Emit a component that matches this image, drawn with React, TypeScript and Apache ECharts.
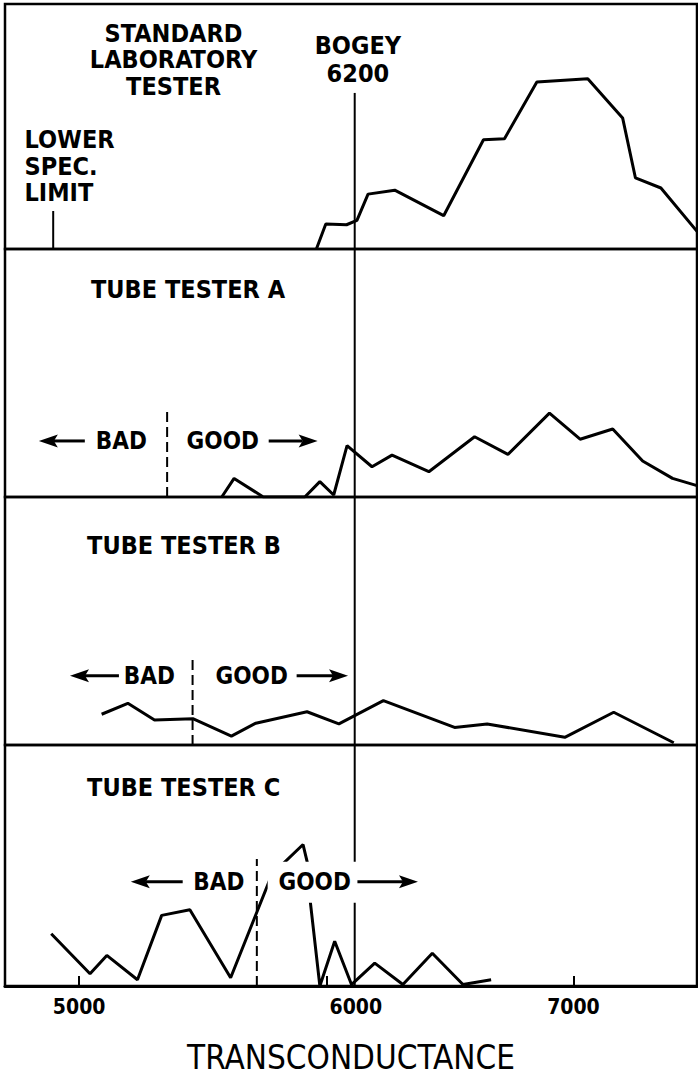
import React, { useEffect, useRef } from 'react';
import * as echarts from 'echarts';

// ---- axis ----
const X_MIN = 4700;
const X_MAX = 7500;
const xTickValues = [5000, 6000, 7000];
const xAxisTitle = 'TRANSCONDUCTANCE';

// ---- reference values ----
const bogeyValue = 6115;
const bogeyTopStd = 63.7; // top of bogey line inside the standard panel
const lowerSpecLimit = 4895;
const lowerSpecHeight = 15.5;

// ---- distributions: [transconductance, relative frequency] ----
const standardLab: [number, number][] = [
  [5960, 0], [5998, 10.2], [6082, 9.9], [6124, 11.7], [6169, 22.4], [6277, 24.0],
  [6475, 13.6], [6636, 44.6], [6721, 45.0], [6852, 68.2], [7058, 69.5], [7199, 53.5],
  [7251, 29.0], [7354, 24.9], [7500, 7.2],
];
const testerA: [number, number][] = [
  [5577, 0], [5627, 7.5], [5745, 0], [5913, 0], [5974, 6.2], [6030, 0.8], [6084, 20.7],
  [6185, 12.2], [6266, 16.9], [6415, 10.2], [6600, 24.3], [6735, 17.2], [6903, 33.8],
  [7027, 23.3], [7159, 27.4], [7280, 14.5], [7401, 7.5], [7500, 4.6],
];
const testerB: [number, number][] = [
  [5091, 12.4], [5197, 16.8], [5305, 10.1], [5460, 10.6], [5616, 3.6], [5715, 8.8],
  [5922, 13.4], [6051, 8.5], [6231, 17.9], [6519, 7.1], [6651, 8.5], [6965, 3.1],
  [7163, 13.2], [7406, 0.9],
];
const testerC: [number, number][] = [
  [4887, 21.7], [5044, 5.1], [5112, 12.7], [5236, 2.6], [5334, 29.3], [5448, 31.6],
  [5613, 3.4], [5780, 46.3], [5906, 58.7], [5927, 49.6], [5933, 37.1], [5974, 0],
  [6034, 18.6], [6102, 0.6], [6196, 9.5], [6310, 0.6], [6429, 13.6], [6553, 0.6],
  [6667, 2.6],
];
const panelData = [standardLab, testerA, testerB, testerC];

// ---- good / bad thresholds of the tube testers (panels 1..3) ----
const thresholds = [5356, 5459, 5719];
const thresholdTops = [34.3, 36.3, 52.7];
const annotationY = [22.6, 27.9, 43.3];
const badArrows: [number, number][] = [[5023, 4837], [5161, 4963], [5419, 5209]];
const goodArrows: [number, number][] = [[5767, 5965], [5880, 6088], [6126, 6371]];
const badLabelX = [5171, 5284, 5565];
const goodLabelX = [5581, 5698, 5953];

// ---- panel labels ----
const panelTitles = ['TUBE TESTER A', 'TUBE TESTER B', 'TUBE TESTER C'];
const panelTitleX = [5048, 5032, 5032];
const panelTitleY = [83.7, 80.4, 82.4];

const stdTexts = [
  { text: 'STANDARD\nLABORATORY\nTESTER', x: 5382, y: 77.2, align: 'center', lh: 26.5 },
  { text: 'BOGEY\n6200', x: 6128, y: 77.2, align: 'center', lh: 28 },
  { text: 'LOWER\nSPEC.\nLIMIT', x: 4779, y: 33.8, align: 'left', lh: 26.7 },
];

const FAMILY = '"DejaVu Sans Condensed", "Liberation Sans Narrow", "DejaVu Sans", sans-serif';
const BOLD25 = `bold 25px ${FAMILY}`;
const BOLD24 = `bold 24px ${FAMILY}`;

const gridBoxes = [
  { top: 4, height: 245 },
  { top: 249, height: 248 },
  { top: 497, height: 248 },
  { top: 745, height: 241 },
];

export default function App() {
  const ref = useRef<HTMLDivElement>(null);
  useEffect(() => {
    const chart = echarts.init(ref.current!, null, { renderer: 'svg' });
    const grids = gridBoxes.map((g) => ({
      left: 5, right: 1, top: g.top, height: g.height,
      show: true, borderColor: '#000', borderWidth: 2.5, backgroundColor: 'transparent',
    }));
    const xAxes = gridBoxes.map((_, i) => {
      const last = i === 3;
      return {
        type: 'value', gridIndex: i, min: X_MIN, max: X_MAX,
        splitLine: { show: false },
        axisLine: { show: last, onZero: false, lineStyle: { color: '#000', width: 3 } },
        axisTick: { show: last, inside: true, length: 10, customValues: xTickValues, lineStyle: { color: '#000', width: 2 } },
        axisLabel: {
          show: last, customValues: xTickValues, margin: 10, color: '#000',
          formatter: (v: number) => (v === 6000 ? '{s|' + v + '}' : '{n|' + v + '}'),
          rich: {
            n: { fontSize: 21, fontWeight: 'bold', fontFamily: FAMILY, color: '#000' },
            s: { fontSize: 21, fontWeight: 'bold', fontFamily: FAMILY, color: '#000', padding: [0, 0, 0, 59] },
          },
        },
        name: last ? xAxisTitle : '',
        nameLocation: 'middle', nameGap: 55,
        nameTextStyle: { fontSize: 33, lineHeight: 33, fontFamily: FAMILY, color: '#000' },
      };
    });
    const yAxes = gridBoxes.map((_, i) => ({ type: 'value', gridIndex: i, min: 0, max: 100, show: false }));

    const lineBase = { type: 'line', symbol: 'none', showSymbol: false, silent: true, clip: true };
    const series: any[] = [];
    panelData.forEach((d, i) => {
      series.push({ ...lineBase, xAxisIndex: i, yAxisIndex: i, data: d, lineStyle: { color: '#000', width: 3 }, z: 3 });
      series.push({
        ...lineBase, xAxisIndex: i, yAxisIndex: i,
        data: [[bogeyValue, 0], [bogeyValue, i === 0 ? bogeyTopStd : 100]],
        lineStyle: { color: '#000', width: 2 }, z: 2,
      });
    });
    series.push({
      ...lineBase, xAxisIndex: 0, yAxisIndex: 0,
      data: [[lowerSpecLimit, 0], [lowerSpecLimit, lowerSpecHeight]],
      lineStyle: { color: '#000', width: 2 },
    });
    thresholds.forEach((t, k) => {
      series.push({
        ...lineBase, xAxisIndex: k + 1, yAxisIndex: k + 1,
        data: [[t, 0], [t, thresholdTops[k]]],
        lineStyle: { color: '#000', width: 2, type: [10, 5] },
      });
    });

    chart.setOption({ animation: false, backgroundColor: '#fff', grid: grids, xAxis: xAxes, yAxis: yAxes, series });

    const px = (g: number, x: number, y: number) => chart.convertToPixel({ gridIndex: g } as any, [x, y]) as number[];
    const graphic: any[] = [];
    stdTexts.forEach((t) => {
      const [x, y] = px(0, t.x, t.y);
      graphic.push({ type: 'text', x, y, z: 20, style: { text: t.text, font: BOLD25, fill: '#000', align: t.align, verticalAlign: 'middle', lineHeight: t.lh } });
    });
    panelTitles.forEach((t, k) => {
      const [x, y] = px(k + 1, panelTitleX[k], panelTitleY[k]);
      graphic.push({ type: 'text', x, y, z: 20, style: { text: t, font: BOLD25, fill: '#000', align: 'left', verticalAlign: 'middle' } });
    });
    const arrow = (g: number, tail: number, tip: number, yv: number) => {
      const [x1, y] = px(g, tail, yv);
      const [x2] = px(g, tip, yv);
      const dir = x2 > x1 ? 1 : -1;
      const headLen = 19, half = 6.5, notch = 4;
      graphic.push({ type: 'line', z: 20, shape: { x1, y1: y, x2: x2 - dir * (headLen - notch), y2: y }, style: { stroke: '#000', lineWidth: 3 } });
      graphic.push({
        type: 'polygon', z: 20,
        shape: { points: [[x2, y], [x2 - dir * headLen, y - half], [x2 - dir * (headLen - notch), y], [x2 - dir * headLen, y + half]] },
        style: { fill: '#000' },
      });
    };
    thresholds.forEach((_, k) => {
      const g = k + 1;
      const [bx, by] = px(g, badLabelX[k], annotationY[k]);
      const [gx, gy] = px(g, goodLabelX[k], annotationY[k]);
      if (k === 2) {
        graphic.push({ type: 'rect', z: 15, shape: { x: gx - 47, y: gy - 20, width: 90, height: 41 }, style: { fill: '#fff' } });
      }
      graphic.push({ type: 'text', x: bx, y: by, z: 20, style: { text: 'BAD', font: BOLD24, fill: '#000', align: 'center', verticalAlign: 'middle' } });
      graphic.push({ type: 'text', x: gx, y: gy, z: 20, style: { text: 'GOOD', font: BOLD24, fill: '#000', align: 'center', verticalAlign: 'middle' } });
      arrow(g, badArrows[k][0], badArrows[k][1], annotationY[k]);
      arrow(g, goodArrows[k][0], goodArrows[k][1], annotationY[k]);
    });
    chart.setOption({ graphic });

    return () => chart.dispose();
  }, []);
  return <div ref={ref} style={{ position: 'absolute', left: 0, top: 0, width: 698, height: 1078, background: '#fff' }} />;
}
